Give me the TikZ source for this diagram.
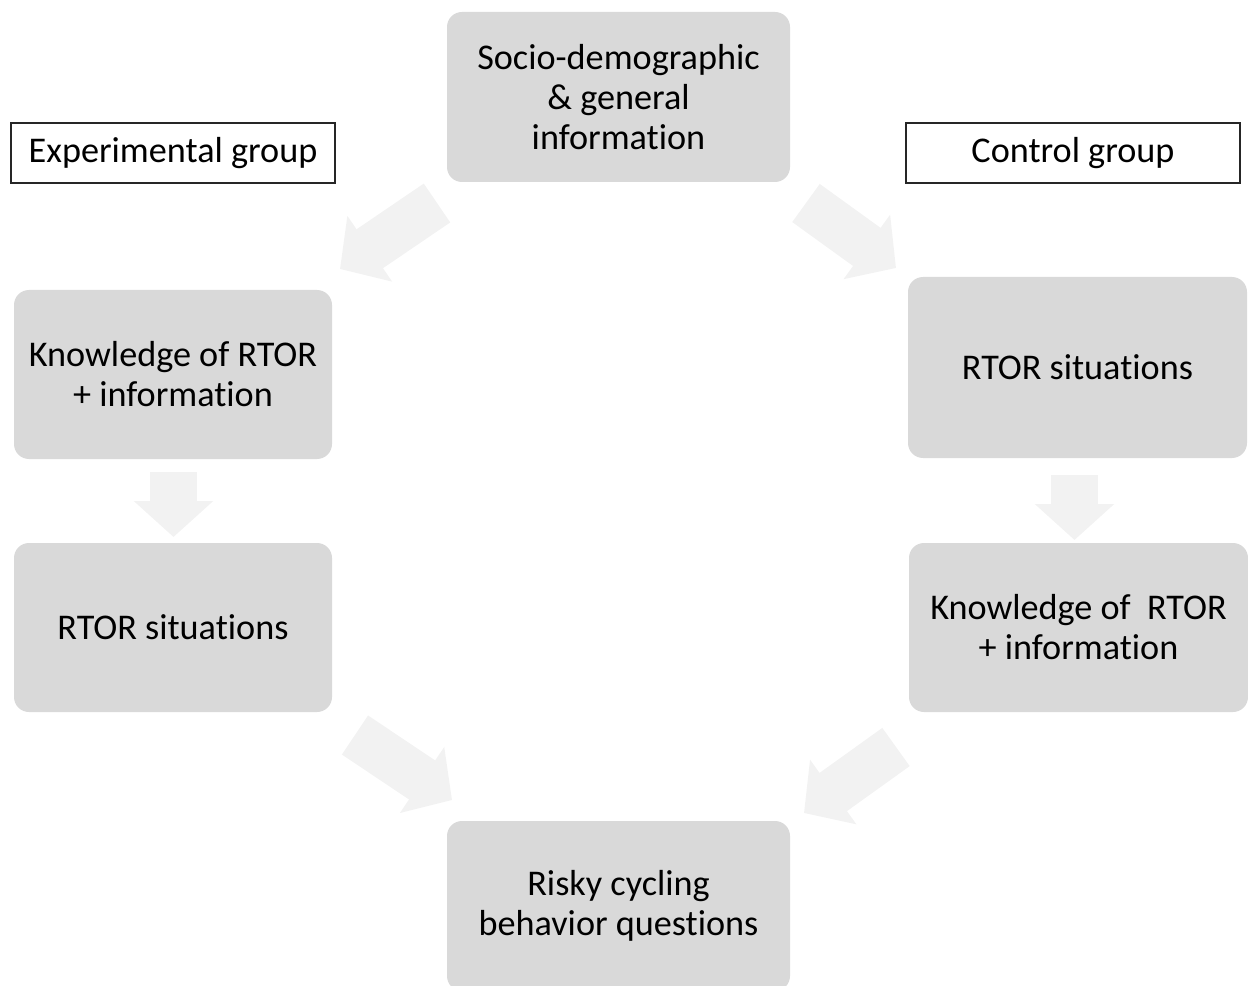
\documentclass[tikz,border=0pt]{standalone}
\usepackage{fontspec}
\setmainfont{Carlito}[Ligatures=NoCommon]
\usepackage{xcolor}
\usepackage{tikz}
\usetikzlibrary{calc}
\usetikzlibrary {arrows.meta}
\definecolor{boxgray}{HTML}{D9D9D9}
\definecolor{arrowgray}{HTML}{F2F2F2}
\definecolor{framegray}{HTML}{262626}

\begin{document}
\begin{tikzpicture}[
  stage/.style={fill=boxgray, rounded corners=0.3cm, align=center, inner sep=0pt,
    font=\fontsize{20.6pt}{0.8cm}\selectfont},
  grouplabel/.style={draw=framegray, line width=0.8pt, fill=white, inner sep=0pt,
    minimum height=1.2cm, font=\fontsize{20.6pt}{0.8cm}\selectfont},
  flow/.style={line width=0.94cm, draw=arrowgray, -{Triangle[length=0.72cm, width=1.55cm]}}
]
\useasboundingbox (0,0) rectangle (24.96,-19.72);
%
\node[stage, minimum width=6.86cm, minimum height=3.4cm] (socio) at (12.37,-1.94) {Socio-demographic\\\& general\\information};
\node[grouplabel, minimum width=6.48cm] (expgroup) at (3.46,-3.06) {Experimental group};
\node[grouplabel, minimum width=6.68cm] (ctrlgroup) at (21.46,-3.06) {Control group};
%
\node[stage, minimum width=6.36cm, minimum height=3.38cm] (expknow) at (3.46,-7.49) {Knowledge of RTOR\\+ information};
\node[stage, minimum width=6.36cm, minimum height=3.38cm] (expsit) at (3.46,-12.55) {RTOR situations};
\node[stage, minimum width=6.78cm, minimum height=3.62cm] (ctrlsit) at (21.55,-7.35) {RTOR situations};
\node[stage, minimum width=6.78cm, minimum height=3.38cm] (ctrlknow) at (21.57,-12.55) {Knowledge of\ \ RTOR\\+ information};
\node[stage, minimum width=6.86cm, minimum height=3.4cm] (risky) at (12.37,-18.12) {Risky cycling\\behavior questions};
%
% block arrows between the stages
\coordinate (tlfrom) at (8.74,-4.06);
\coordinate (tlto) at (6.80,-5.38);
\coordinate (trfrom) at (16.12,-4.06);
\coordinate (trto) at (17.92,-5.36);
\coordinate (ldfrom) at (3.47,-9.44);
\coordinate (ldto) at (3.47,-10.74);
\coordinate (rdfrom) at (21.49,-9.50);
\coordinate (rdto) at (21.49,-10.80);
\coordinate (blfrom) at (7.10,-14.70);
\coordinate (blto) at (9.04,-16.00);
\coordinate (brfrom) at (17.92,-14.94);
\coordinate (brto) at (16.08,-16.26);
%
\draw[flow] (tlfrom) -- (tlto);
\draw[flow] (trfrom) -- (trto);
\draw[flow] (ldfrom) -- (ldto);
\draw[flow] (rdfrom) -- (rdto);
\draw[flow] (blfrom) -- (blto);
\draw[flow] (brfrom) -- (brto);
\end{tikzpicture}
\end{document}
